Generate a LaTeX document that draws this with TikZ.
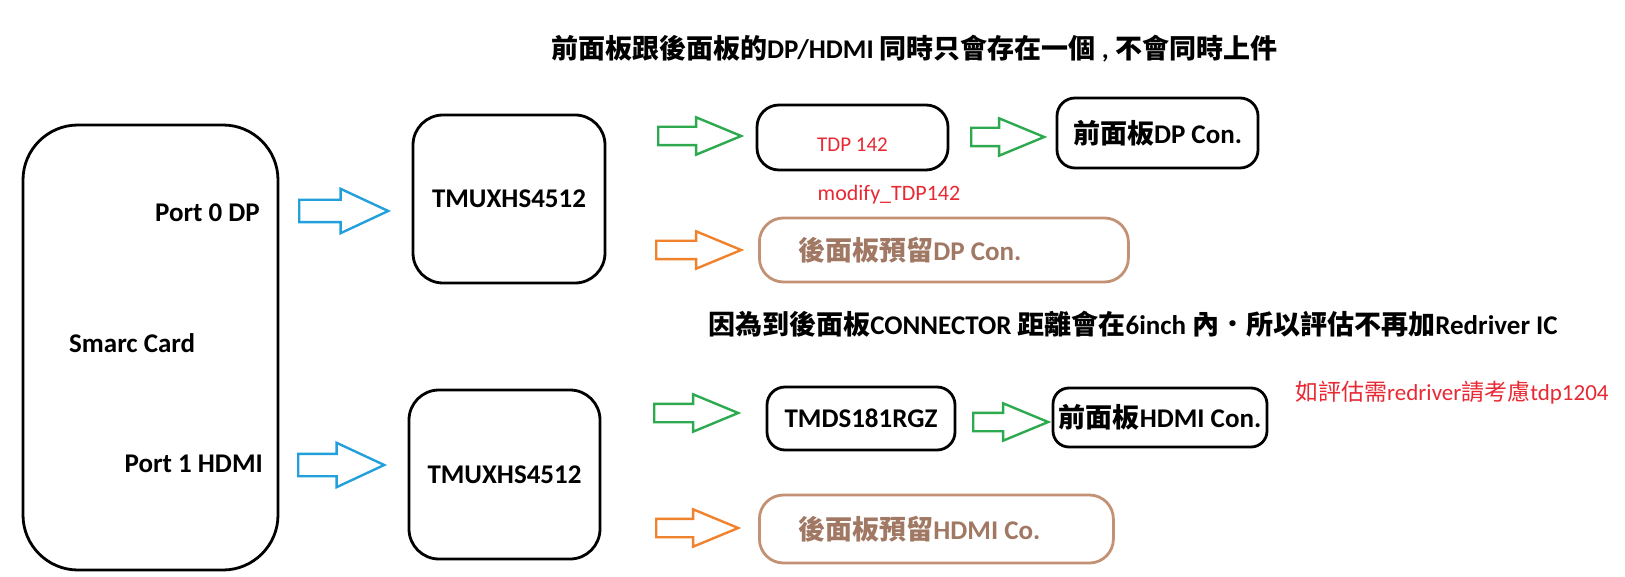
\documentclass[tikz,border=0pt]{standalone}
\usepackage{fontspec}
\setmainfont{Carlito}
\newfontfamily\cjk{Noto Sans CJK TC}
\newcommand\zh[1]{{\cjk #1}}
\usetikzlibrary{shapes.arrows}
\definecolor{arrblue}{RGB}{35,160,220}
\definecolor{arrgreen}{RGB}{45,170,80}
\definecolor{arrorange}{RGB}{240,130,45}
\definecolor{brownline}{RGB}{195,145,115}
\definecolor{browntext}{RGB}{160,120,100}
\definecolor{notered}{RGB}{232,40,50}
\tikzset{
  every node/.style={font=\fontsize{27}{32}\selectfont\bfseries, inner sep=0pt},
  blk/.style={draw=black, line width=2.8pt},
  brownbox/.style={draw=brownline, line width=2.8pt, rounded corners=24pt,
    text=browntext, anchor=west, inner xsep=39pt},
  blockarrow/.style={single arrow, draw=#1, line width=2.4pt, anchor=tail,
    inner xsep=0pt},
  bluearrow/.style={blockarrow=arrblue, inner ysep=10pt, single arrow head extend=11pt,
    minimum width=42pt, single arrow tip angle=50},
  greenarrow/.style={blockarrow=arrgreen, inner ysep=8pt, single arrow head extend=9.5pt,
    minimum width=35pt, single arrow tip angle=45},
  orangearrow/.style={blockarrow=arrorange, inner ysep=8pt, single arrow head extend=9.5pt,
    minimum width=35pt, single arrow tip angle=45},
  rednote/.style={text=notered, font=\fontsize{#1}{#1}\selectfont},
}
\begin{document}
\begin{tikzpicture}[x=1pt, y=-1pt]
\useasboundingbox (0,0) rectangle (1625,577);

% title and notes
\node (title) at (914,49) {\zh{前面板跟後面板的}DP/HDMI \zh{同時只會存在一個} , \zh{不會同時上件}};
\node (note) at (1133,324) {\zh{因為到後面板}CONNECTOR \zh{距離會在}6inch \zh{內．所以評估不再加}Redriver IC};
\node[rednote=23, anchor=west] (rednote) at (1295,393) {\zh{如評估需}redriver\zh{請考慮}tdp1204};

% Smarc card
\node[blk, rounded corners=55pt, minimum width=255pt, minimum height=445pt] (smarc) at (150.5,347.5) {};
\node[anchor=east] (port0) at (260,213) {Port 0 DP};
\node[anchor=west] (smarclbl) at (69,343) {Smarc Card};
\node[anchor=east] (port1) at (263,464) {Port 1 HDMI};

% muxes
\node[blk, rounded corners=30pt, minimum width=192pt, minimum height=168pt] (mux1) at (509,199) {TMUXHS4512};
\node[blk, rounded corners=30pt, minimum width=191pt, minimum height=169pt] (mux2) at (504.5,474.5) {TMUXHS4512};

% blue arrows
\node[bluearrow, minimum height=89pt] (b1) at (298,211) {};
\node[bluearrow, minimum height=86pt] (b2) at (297,465) {};

% DP path
\node[greenarrow, minimum height=83pt] (g1) at (657,136) {};
\node[blk, rounded corners=22pt, minimum width=191pt, minimum height=65pt,
  text=notered, font=\fontsize{21}{25}\selectfont] (tdp) at (852.5,137.5) {\raisebox{-7pt}[\height][\depth]{TDP 142}};
\node[greenarrow, minimum height=73pt] (g2) at (970,137) {};
\node[blk, rounded corners=18pt, minimum width=201pt, minimum height=70pt] (fdp) at (1157.5,133) {\zh{前面板}DP Con.};
\node[rednote=22] (modify) at (889,195) {modify\_TDP142};
\node[orangearrow, minimum height=85pt] (o1) at (655,250) {};
\node[brownbox, minimum height=64pt] (rdp) at (758,250) {\makebox[291pt][l]{\zh{後面板預留}DP Con.}};

% HDMI path
\node[greenarrow, minimum height=84pt] (g3) at (653,413) {};
\node[blk, rounded corners=18pt, minimum width=188pt, minimum height=63pt] (tmds) at (861,418.5) {TMDS181RGZ};
\node[greenarrow, minimum height=75pt] (g4) at (972,422) {};
\node[blk, rounded corners=16pt, minimum width=214pt, minimum height=59pt] (fhdmi) at (1160,417.5) {\zh{前面板}HDMI Con.};
\node[orangearrow, minimum height=82pt] (o2) at (655,528) {};
\node[brownbox, minimum height=68pt] (rhdmi) at (758,529) {\makebox[276pt][l]{\zh{後面板預留}HDMI Co.}};
\end{tikzpicture}
\end{document}
